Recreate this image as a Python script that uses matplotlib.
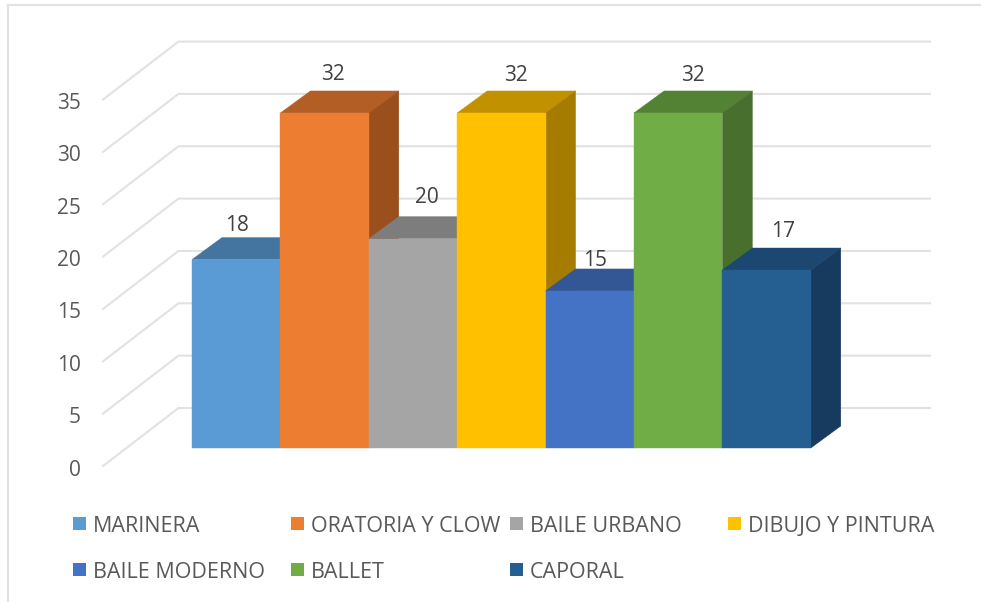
import matplotlib
matplotlib.use('Agg')
import matplotlib.pyplot as plt
from matplotlib.patches import Polygon, Rectangle
from matplotlib.transforms import Affine2D

categories = ['MARINERA', 'ORATORIA Y CLOW', 'BAILE URBANO', 'DIBUJO Y PINTURA',
              'BAILE MODERNO', 'BALLET', 'CAPORAL']
values = [18, 32, 20, 32, 15, 32, 17]
y_ticks = [0, 5, 10, 15, 20, 25, 30, 35]

front_colors = ['#5B9BD5', '#ED7D31', '#A5A5A5', '#FFC000', '#4472C4', '#70AD47', '#255E91']
top_colors = ['#4475A1', '#B35E24', '#7D7D7D', '#C19100', '#335694', '#548235', '#1C4770']
side_colors = ['#3A6288', '#9A4F1C', '#696969', '#A67C00', '#2B4A80', '#486F2D', '#163B5F']

# pixel layout of the picture
W, H = 981, 602
BAR_X0, BAR_W = 192, 88.4
BASE_Y, UNIT = 448, 10.47
DEPTH_X, DEPTH_Y = 30, 22

label_dx = [1, 8, 14, 15, 5, 15, 16]
label_dy = [34, 38, 41, 37, 30, 37, 39]

legend_sq_x = [73, 291, 510, 728, 73, 291, 510]
legend_txt_x = [93, 311, 530, 748, 93, 311, 530]
legend_y = [524, 524, 524, 524, 570, 570, 570]

plt.rcParams['font.family'] = ['Open Sans', 'DejaVu Sans']
TXT = '#595959'
GRID = '#E2E2E2'

fig = plt.figure(figsize=(W / 100, H / 100), dpi=100)
ax = fig.add_axes([0, 0, 1, 1])
ax.set_xlim(-BAR_X0 / BAR_W, (W - BAR_X0) / BAR_W)
ax.set_ylim((BASE_Y - H) / UNIT, BASE_Y / UNIT)
ax.axis('off')

px = Affine2D().scale(1, -1).translate(0, H)
dx = DEPTH_X / BAR_W
dy = DEPTH_Y / UNIT

# outer frame
ax.plot([8, 8], [602, 5], color=GRID, lw=1.6, transform=px, clip_on=False)
ax.plot([8, 981], [5, 5], color=GRID, lw=1.6, transform=px, clip_on=False)

# gridlines on side wall and back wall
wall_front = (103 - BAR_X0) / BAR_W
wall_back = (178.5 - BAR_X0) / BAR_W
wall_end = (930 - BAR_X0) / BAR_W
low_front = (BASE_Y - 466) / UNIT
low_back = (BASE_Y - 408) / UNIT
for t in y_ticks:
    ax.plot([wall_front, wall_back, wall_end], [low_front + t, low_back + t, low_back + t],
            color=GRID, lw=1.5, solid_joinstyle='miter', zorder=1)
    ax.annotate(str(t), (wall_front, low_front + t), xytext=(-22, -4), textcoords='offset pixels',
                ha='right', va='center', fontsize=15, color=TXT)

# bars, left to right so each one covers the side of the previous
for i, v in enumerate(values):
    z = 2 + i
    ax.add_patch(Polygon([(i, v), (i + 1, v), (i + 1 + dx, v + dy), (i + dx, v + dy)],
                         fc=top_colors[i], ec=top_colors[i], lw=0.3, zorder=z))
    ax.add_patch(Polygon([(i + 1, 0), (i + 1 + dx, dy), (i + 1 + dx, v + dy), (i + 1, v)],
                         fc=side_colors[i], ec=side_colors[i], lw=0.3, zorder=z))
    ax.bar(i, v, width=1, align='edge', color=front_colors[i], edgecolor=front_colors[i],
           lw=0.3, zorder=z)
    ax.annotate(str(v), (i + 0.5, v), xytext=(label_dx[i], label_dy[i]), textcoords='offset pixels',
                ha='center', va='center', fontsize=15, color='#404040', zorder=20)

# legend
for i, name in enumerate(categories):
    ax.add_patch(Rectangle((legend_sq_x[i], legend_y[i] - 7), 13, 13, fc=front_colors[i],
                           ec='none', transform=px, clip_on=False))
    ax.text(legend_txt_x[i], legend_y[i] + 2, name, transform=px, ha='left', va='center',
            fontsize=15.5, color=TXT)

fig.savefig('out.png', dpi=100)
